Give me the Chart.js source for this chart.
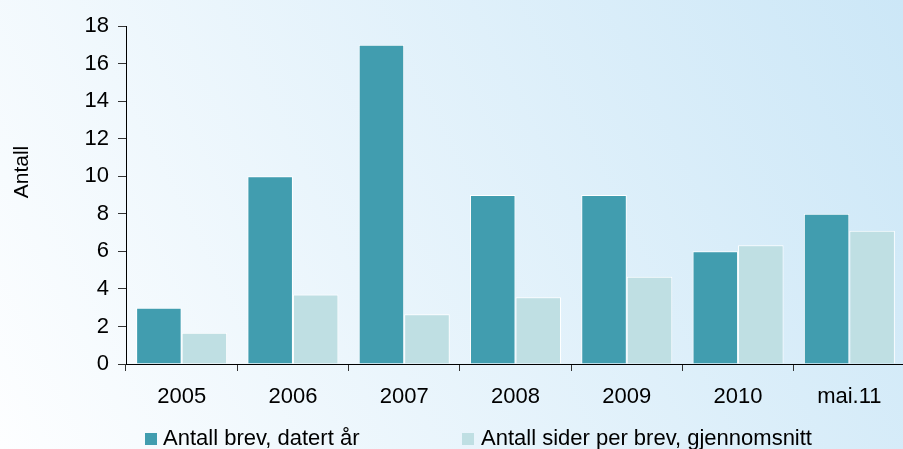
<!DOCTYPE html>
<html>
<head>
<meta charset="utf-8">
<script src="https://cdn.jsdelivr.net/npm/chart.js@4"></script>
<style>
html,body{margin:0;padding:0;overflow:hidden;background:#fff;}
#wrap{width:905px;height:449px;position:relative;}
</style>
</head>
<body>
<div id="wrap"><canvas id="c"></canvas></div>
<script>
const categories = ["2005","2006","2007","2008","2009","2010","mai.11"];
const brevValues = [3, 10, 17, 9, 9, 6, 8];
const siderValues = [1.67, 3.7, 2.65, 3.55, 4.65, 6.32, 7.1];
const seriesLabels = ["Antall brev, datert år", "Antall sider per brev, gjennomsnitt"];
const yTitle = "Antall";
const FONT = "'Liberation Sans', Arial, sans-serif";

const bgPlugin = {
  id: 'bg',
  beforeDraw(chart) {
    const {ctx, width, height} = chart;
    const g = ctx.createLinearGradient(0, height, width, 0);
    g.addColorStop(0, '#fdfeff');
    g.addColorStop(1, '#cce7f7');
    ctx.save();
    ctx.fillStyle = g;
    ctx.fillRect(0, 0, width, height);
    ctx.restore();
  }
};

const extrasPlugin = {
  id: 'extras',
  afterDraw(chart) {
    const ctx = chart.ctx;
    ctx.save();
    ctx.fillStyle = '#000';
    ctx.font = '21px ' + FONT;
    ctx.translate(22, 172);
    ctx.rotate(-Math.PI / 2);
    ctx.textAlign = 'center';
    ctx.textBaseline = 'middle';
    ctx.fillText(yTitle, 0, 0);
    ctx.restore();
    ctx.save();
    const xs = [[145, 163], [462, 481]];
    chart.data.datasets.forEach((ds, i) => {
      ctx.fillStyle = ds.backgroundColor;
      ctx.fillRect(xs[i][0], 433, 12, 12);
      ctx.fillStyle = '#000';
      ctx.font = '22px ' + FONT;
      ctx.textAlign = 'left';
      ctx.textBaseline = 'alphabetic';
      ctx.fillText(ds.label, xs[i][1], 445);
    });
    ctx.restore();
  }
};

new Chart(document.getElementById('c'), {
  type: 'bar',
  data: {
    labels: categories,
    datasets: [
      {label: seriesLabels[0], data: brevValues, backgroundColor: '#419daf', borderColor: '#ffffff', borderWidth: 1},
      {label: seriesLabels[1], data: siderValues, backgroundColor: '#bfdfe3', borderColor: '#ffffff', borderWidth: 1}
    ]
  },
  options: {
    responsive: true,
    maintainAspectRatio: false,
    animation: false,
    layout: {padding: {top: 26, left: 0, right: 0, bottom: 0}},
    datasets: {bar: {categoryPercentage: 0.818, barPercentage: 1.0}},
    plugins: {legend: {display: false}, tooltip: {enabled: false}},
    scales: {
      x: {
        afterFit(s) { s.height = 85; },
        grid: {display: true, drawOnChartArea: false, drawTicks: true, tickLength: 7, color: '#333', offset: true},
        border: {display: true, color: '#000', width: 1},
        ticks: {color: '#000', font: {size: 22, family: FONT}, padding: 13, maxRotation: 0}
      },
      y: {
        min: 0, max: 18,
        afterFit(s) { s.width = 126; },
        grid: {display: true, drawOnChartArea: false, drawTicks: true, tickLength: 8, color: '#333'},
        border: {display: true, color: '#000', width: 1},
        ticks: {stepSize: 2, color: '#000', font: {size: 22, family: FONT}, padding: 9}
      }
    }
  },
  plugins: [bgPlugin, extrasPlugin]
});
</script>
</body>
</html>
